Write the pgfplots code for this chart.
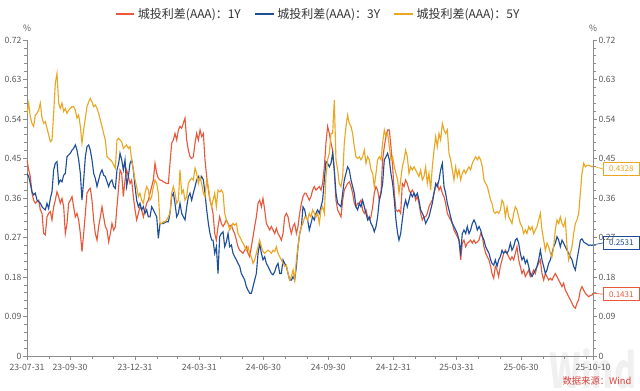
\documentclass[border=0pt]{standalone}
\usepackage{pgfplots}
\usepackage{pgfplotstable}
\pgfplotsset{compat=1.18}
\usepackage{fontspec}
\setmainfont{Noto Sans CJK SC}
\definecolor{c1}{HTML}{E8593C}
\definecolor{c3}{HTML}{1F4E9A}
\definecolor{c5}{HTML}{EBA623}
\definecolor{axgray}{HTML}{8C8C8C}
\definecolor{txtgray}{HTML}{5A5A5A}
\definecolor{srcred}{HTML}{D9433B}
\pgfplotstableread{
d r b o
0 0.447 0.416 0.553
2.4 0.424 0.409 0.576
4.7 0.409 0.393 0.545
7.1 0.371 0.374 0.530
9.4 0.355 0.367 0.523
11.8 0.348 0.371 0.549
14.2 0.352 0.355 0.553
16.5 0.355 0.352 0.560
18.9 0.333 0.348 0.576
21.3 0.325 0.340 0.542
23.6 0.279 0.336 0.530
26.0 0.276 0.333 0.534
28.3 0.317 0.348 0.519
30.7 0.325 0.336 0.504
33.1 0.329 0.359 0.488
35.4 0.310 0.374 0.492
37.8 0.340 0.424 0.553
40.1 0.355 0.439 0.621
42.5 0.374 0.443 0.644
44.9 0.363 0.393 0.576
47.2 0.348 0.401 0.564
49.6 0.359 0.397 0.576
52.0 0.340 0.412 0.557
54.3 0.279 0.416 0.564
56.7 0.302 0.454 0.553
59.0 0.348 0.458 0.560
61.4 0.355 0.462 0.564
63.8 0.363 0.469 0.568
66.1 0.340 0.473 0.568
68.5 0.317 0.481 0.560
70.8 0.325 0.469 0.542
73.2 0.310 0.447 0.549
75.6 0.279 0.416 0.523
77.9 0.238 0.355 0.485
80.3 0.279 0.401 0.515
82.7 0.325 0.454 0.542
85.0 0.371 0.477 0.568
87.4 0.378 0.481 0.579
89.7 0.382 0.469 0.587
92.1 0.355 0.447 0.579
94.5 0.310 0.416 0.568
96.8 0.279 0.405 0.572
99.2 0.264 0.386 0.564
101.5 0.295 0.401 0.553
103.9 0.317 0.416 0.538
106.3 0.340 0.424 0.523
108.6 0.317 0.412 0.507
111.0 0.295 0.409 0.492
113.4 0.287 0.397 0.454
115.7 0.260 0.386 0.450
118.1 0.279 0.397 0.447
120.4 0.302 0.401 0.443
122.8 0.287 0.386 0.435
125.2 0.295 0.382 0.428
127.5 0.340 0.424 0.492
129.9 0.386 0.439 0.496
131.8 0.424 0.462 0.492
134.2 0.416 0.447 0.488
136.5 0.363 0.424 0.473
138.9 0.401 0.447 0.477
141.2 0.424 0.386 0.481
143.6 0.409 0.409 0.473
146.0 0.393 0.439 0.477
148.3 0.401 0.447 0.447
150.7 0.363 0.424 0.424
153.1 0.333 0.386 0.401
155.4 0.310 0.355 0.386
157.8 0.325 0.340 0.363
160.1 0.340 0.348 0.371
162.5 0.333 0.333 0.355
164.9 0.317 0.340 0.348
167.2 0.333 0.325 0.371
169.6 0.348 0.333 0.386
171.9 0.355 0.317 0.378
174.3 0.371 0.317 0.355
176.7 0.386 0.340 0.363
179.0 0.401 0.333 0.386
181.4 0.439 0.325 0.401
183.8 0.416 0.317 0.393
186.1 0.405 0.268 0.371
188.5 0.401 0.302 0.302
190.8 0.400 0.302 0.302
193.2 0.397 0.302 0.306
195.6 0.395 0.304 0.306
197.9 0.393 0.306 0.310
200.3 0.393 0.306 0.317
202.6 0.439 0.325 0.325
205.0 0.485 0.363 0.371
207.4 0.492 0.371 0.386
209.7 0.507 0.348 0.371
212.1 0.492 0.317 0.348
214.5 0.515 0.325 0.355
216.8 0.523 0.348 0.424
219.2 0.519 0.325 0.371
221.5 0.530 0.317 0.378
223.9 0.542 0.310 0.355
226.3 0.492 0.340 0.363
228.6 0.469 0.363 0.393
231.0 0.454 0.371 0.401
233.3 0.450 0.355 0.405
235.7 0.454 0.371 0.401
238.1 0.485 0.386 0.428
240.4 0.507 0.401 0.416
242.8 0.492 0.409 0.393
245.2 0.515 0.401 0.409
247.5 0.500 0.409 0.393
249.9 0.507 0.401 0.371
252.2 0.447 0.371 0.363
254.6 0.409 0.333 0.401
257.0 0.378 0.302 0.386
259.3 0.355 0.279 0.355
261.7 0.340 0.264 0.340
263.6 0.325 0.264 0.355
266.0 0.279 0.234 0.371
268.3 0.264 0.249 0.340
270.7 0.295 0.188 0.378
273.0 0.317 0.272 0.374
275.4 0.302 0.279 0.378
277.8 0.295 0.283 0.371
280.1 0.302 0.249 0.325
282.5 0.310 0.260 0.310
284.9 0.302 0.279 0.302
287.2 0.295 0.249 0.287
289.6 0.298 0.253 0.295
291.9 0.287 0.234 0.302
294.3 0.279 0.226 0.298
296.7 0.264 0.219 0.302
299.0 0.249 0.211 0.279
301.4 0.241 0.204 0.272
303.7 0.238 0.188 0.264
306.1 0.234 0.181 0.257
308.5 0.241 0.173 0.249
310.8 0.249 0.158 0.241
313.2 0.234 0.150 0.249
315.6 0.226 0.143 0.234
317.9 0.249 0.143 0.226
320.3 0.272 0.158 0.211
322.6 0.295 0.173 0.219
325.0 0.317 0.188 0.234
327.4 0.348 0.234 0.249
329.7 0.355 0.257 0.264
332.1 0.340 0.234 0.249
334.4 0.359 0.219 0.238
336.8 0.333 0.226 0.234
339.2 0.302 0.211 0.238
341.5 0.295 0.204 0.241
343.9 0.287 0.196 0.238
346.3 0.295 0.188 0.234
348.6 0.287 0.185 0.241
351.0 0.279 0.192 0.238
353.3 0.291 0.204 0.249
355.7 0.279 0.211 0.234
358.1 0.272 0.188 0.226
360.4 0.264 0.188 0.219
362.8 0.279 0.219 0.211
365.1 0.317 0.211 0.204
367.5 0.325 0.204 0.207
369.9 0.317 0.188 0.188
372.2 0.295 0.173 0.173
374.6 0.279 0.173 0.181
377.0 0.295 0.181 0.196
379.3 0.302 0.173 0.173
381.7 0.279 0.204 0.219
384.0 0.295 0.249 0.249
386.4 0.325 0.279 0.279
388.8 0.348 0.295 0.295
391.1 0.363 0.340 0.302
393.5 0.371 0.333 0.317
395.3 0.371 0.317 0.317
397.7 0.363 0.310 0.310
400.0 0.355 0.287 0.325
402.4 0.363 0.302 0.317
404.7 0.378 0.317 0.333
407.1 0.386 0.310 0.325
409.5 0.378 0.325 0.317
411.8 0.382 0.333 0.325
414.2 0.386 0.325 0.302
416.6 0.378 0.340 0.333
418.9 0.393 0.355 0.340
421.3 0.431 0.401 0.325
423.6 0.485 0.443 0.409
426.0 0.523 0.439 0.447
428.4 0.507 0.431 0.462
430.7 0.485 0.439 0.507
433.1 0.469 0.462 0.507
435.4 0.424 0.424 0.583
437.8 0.355 0.371 0.447
440.2 0.333 0.348 0.424
442.5 0.325 0.344 0.393
444.9 0.317 0.340 0.386
447.3 0.355 0.371 0.409
449.6 0.378 0.401 0.485
452.0 0.386 0.416 0.523
454.3 0.393 0.431 0.549
456.7 0.397 0.424 0.530
459.1 0.386 0.401 0.523
461.4 0.371 0.386 0.507
463.8 0.348 0.371 0.477
466.1 0.340 0.340 0.454
468.5 0.348 0.333 0.450
470.9 0.348 0.348 0.454
473.2 0.355 0.340 0.447
475.6 0.333 0.355 0.454
478.0 0.325 0.340 0.469
480.3 0.333 0.325 0.439
482.7 0.317 0.310 0.454
485.0 0.310 0.317 0.447
487.4 0.317 0.302 0.424
489.8 0.340 0.295 0.416
492.1 0.371 0.283 0.386
494.5 0.386 0.295 0.416
496.8 0.378 0.317 0.447
499.2 0.355 0.355 0.454
501.6 0.371 0.371 0.447
503.9 0.447 0.393 0.485
506.3 0.477 0.447 0.515
508.7 0.500 0.454 0.500
511.0 0.515 0.462 0.507
513.4 0.515 0.447 0.477
515.7 0.477 0.416 0.447
518.1 0.431 0.393 0.454
520.5 0.371 0.355 0.431
522.8 0.333 0.310 0.416
525.2 0.329 0.279 0.401
527.1 0.333 0.264 0.371
529.5 0.325 0.279 0.401
531.8 0.393 0.310 0.431
534.2 0.386 0.340 0.447
536.5 0.401 0.355 0.469
538.9 0.393 0.340 0.454
541.3 0.378 0.355 0.416
543.6 0.371 0.371 0.431
546.0 0.378 0.363 0.424
548.4 0.371 0.371 0.431
550.7 0.355 0.363 0.424
553.1 0.363 0.371 0.416
555.4 0.348 0.355 0.409
557.8 0.325 0.333 0.424
560.2 0.310 0.325 0.401
562.5 0.317 0.317 0.409
564.9 0.317 0.302 0.431
567.2 0.325 0.310 0.393
569.6 0.340 0.317 0.416
572.0 0.348 0.333 0.378
574.3 0.355 0.348 0.431
576.7 0.371 0.371 0.469
579.1 0.386 0.393 0.500
581.4 0.393 0.386 0.477
583.8 0.378 0.401 0.507
586.1 0.386 0.424 0.492
588.5 0.371 0.439 0.530
590.9 0.363 0.386 0.515
593.2 0.348 0.371 0.507
595.6 0.325 0.348 0.515
597.9 0.317 0.333 0.462
600.3 0.310 0.317 0.447
602.7 0.302 0.302 0.424
605.0 0.287 0.295 0.401
607.4 0.279 0.287 0.431
609.8 0.272 0.279 0.409
612.1 0.264 0.264 0.424
614.5 0.219 0.234 0.401
616.8 0.257 0.279 0.416
619.2 0.264 0.287 0.424
621.6 0.249 0.279 0.416
623.9 0.257 0.295 0.424
626.3 0.260 0.279 0.431
628.6 0.264 0.287 0.424
631.0 0.257 0.302 0.439
633.4 0.264 0.310 0.447
635.7 0.257 0.302 0.454
638.1 0.260 0.287 0.447
640.5 0.264 0.295 0.454
642.8 0.279 0.287 0.447
645.2 0.272 0.272 0.431
647.5 0.249 0.264 0.401
649.9 0.234 0.249 0.393
652.3 0.226 0.241 0.386
654.6 0.219 0.234 0.371
657.0 0.204 0.219 0.355
658.9 0.188 0.211 0.348
661.3 0.177 0.207 0.329
663.6 0.204 0.219 0.325
666.0 0.196 0.204 0.329
668.3 0.181 0.219 0.325
670.7 0.204 0.226 0.333
673.1 0.219 0.241 0.355
675.4 0.234 0.234 0.348
677.8 0.241 0.238 0.317
680.2 0.234 0.234 0.340
682.5 0.226 0.241 0.317
684.9 0.219 0.257 0.310
687.2 0.226 0.241 0.302
689.6 0.219 0.249 0.325
692.0 0.234 0.264 0.340
694.3 0.249 0.268 0.333
696.7 0.219 0.257 0.317
699.0 0.204 0.234 0.302
701.4 0.188 0.219 0.295
703.8 0.196 0.226 0.279
706.1 0.181 0.211 0.287
708.5 0.188 0.219 0.279
710.9 0.196 0.204 0.295
713.2 0.181 0.188 0.287
715.6 0.188 0.181 0.295
717.9 0.196 0.188 0.279
720.3 0.188 0.196 0.287
722.7 0.204 0.204 0.295
725.0 0.211 0.219 0.310
727.4 0.219 0.241 0.325
729.7 0.188 0.219 0.287
732.1 0.173 0.204 0.264
734.5 0.188 0.188 0.241
736.8 0.181 0.196 0.257
739.2 0.173 0.211 0.249
741.6 0.177 0.219 0.234
743.9 0.173 0.234 0.226
746.3 0.181 0.249 0.249
748.6 0.188 0.257 0.287
751.0 0.181 0.272 0.310
753.4 0.173 0.264 0.302
755.7 0.166 0.249 0.317
758.1 0.158 0.264 0.302
760.4 0.166 0.257 0.295
762.8 0.150 0.249 0.310
765.2 0.143 0.241 0.249
767.5 0.135 0.234 0.219
769.9 0.128 0.226 0.234
772.3 0.120 0.219 0.249
774.6 0.112 0.204 0.279
777.0 0.109 0.196 0.302
779.3 0.120 0.219 0.310
781.7 0.128 0.241 0.325
784.1 0.150 0.264 0.371
786.4 0.158 0.267 0.416
788.8 0.150 0.260 0.439
791.1 0.143 0.257 0.431
793.5 0.139 0.255 0.435
795.9 0.135 0.252 0.435
798.2 0.138 0.253 0.433
800.6 0.139 0.252 0.431
802 0.1431 0.2531 0.4328
}\spread
\pgfplotsset{
  myaxis/.style={
    scale only axis, width=424.5pt, height=237pt,
    at={(0,0)}, anchor=south west,
    xmin=0, xmax=802, ymin=0, ymax=0.72,
    axis line style={draw=axgray, line width=0.6pt},
    tick style={draw=axgray, line width=0.5pt},
    major tick length=3pt, minor tick length=2pt,
    tick align=outside,
    ytick={0,0.09,0.18,0.27,0.36,0.45,0.54,0.63,0.72},
    yticklabels={0,0.09,0.18,0.27,0.36,0.45,0.54,0.63,0.72},
    minor y tick num=4,
    tick label style={font=\fontsize{6.5}{7}\selectfont, text=txtgray},
    yticklabel style={inner sep=1pt},
  }
}
\begin{document}
\begin{tikzpicture}
\path[use as bounding box] (-20.25pt,-26.25pt) rectangle (459.75pt,267pt);
\node[anchor=south east, inner sep=0pt, xscale=0.7, font=\fontsize{36}{36}\selectfont\bfseries, text=black!6] at (457pt,-25pt) {Wind};
\begin{axis}[myaxis,
  clip mode=individual,
  axis x line*=bottom, axis y line*=left,
  xtick={0,61,153,244,335,427,519,609,700,802},
  xticklabels={23-07-31,23-09-30,23-12-31,24-03-31,24-06-30,24-09-30,24-12-31,25-03-31,25-06-30,25-10-10},
  minor xtick={31,92,122,184,213,274,305,366,397,458,488,550,578,639,670,731,762,792},
  legend style={at={(0.515,1.082)}, anchor=center, draw=none, fill=none,
    font=\fontsize{9}{10}\selectfont, text={black!80},
    /tikz/every even column/.append style={column sep=8pt}},
  legend columns=3,
  legend image code/.code={\draw[#1, line width=1.3pt] (0pt,0pt) -- (14pt,0pt);},
]
\addplot[c1, line width=0.85pt] table[x=d, y=r] {\spread};
\addlegendentry{城投利差(AAA)：1Y}
\addplot[c3, line width=0.85pt] table[x=d, y=b] {\spread};
\addlegendentry{城投利差(AAA)：3Y}
\addplot[c5, line width=0.85pt] table[x=d, y=o] {\spread};
\addlegendentry{城投利差(AAA)：5Y}
\node[font=\fontsize{6.5}{7}\selectfont, text=txtgray] at (rel axis cs:0,1) [yshift=9pt] {\%};
\node[font=\fontsize{6.5}{7}\selectfont, text=txtgray] at (rel axis cs:1,1) [yshift=9pt] {\%};
\draw[c5, line width=0.5pt] (axis cs:802,0.4328) -- ++(7.5pt,-2.25pt) node[anchor=west, draw=c5, fill=white, inner sep=0pt, minimum width=27pt, minimum height=9.75pt, font=\fontsize{6}{7}\selectfont, text=c5, line width=0.5pt] {0.4328};
\draw[c3, line width=0.5pt] (axis cs:802,0.2531) -- ++(7.5pt,1.5pt) node[anchor=west, draw=c3, fill=white, inner sep=0pt, minimum width=27pt, minimum height=9.75pt, font=\fontsize{6}{7}\selectfont, text=c3, line width=0.5pt] {0.2531};
\draw[c1, line width=0.5pt] (axis cs:802,0.1431) -- ++(7.5pt,-0.75pt) node[anchor=west, draw=c1, fill=white, inner sep=0pt, minimum width=27pt, minimum height=9.75pt, font=\fontsize{6}{7}\selectfont, text=c1, line width=0.5pt] {0.1431};
\node[font=\fontsize{7}{8}\selectfont, text=srcred] at (rel axis cs:1.007,-0.079) {数据来源：Wind};
\end{axis}
\begin{axis}[myaxis,
  axis y line*=right, axis x line=none,
]
\end{axis}
\end{tikzpicture}
\end{document}
